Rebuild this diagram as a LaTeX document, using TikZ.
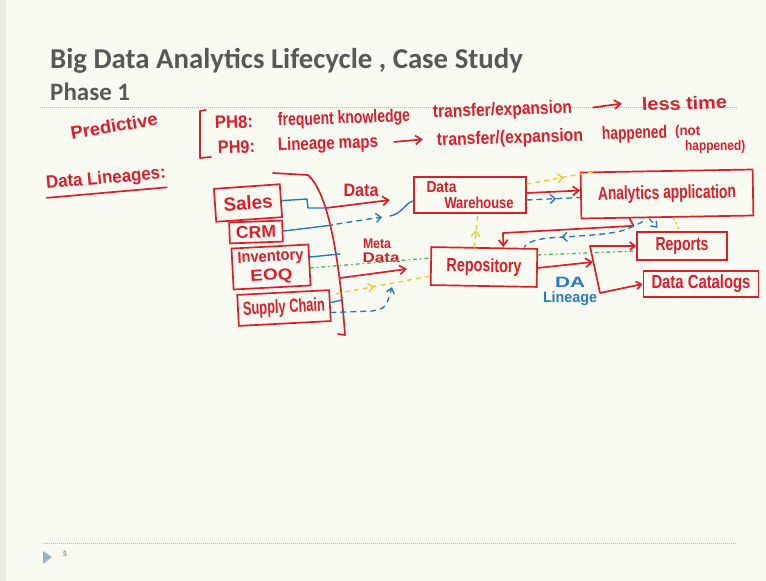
\documentclass[tikz,border=0pt]{standalone}
\usepackage{fontspec}
\usepackage{graphicx}
\setmainfont{Carlito}
\newfontfamily\penfont{Liberation Sans}
\usetikzlibrary{arrows.meta,decorations.markings}

\definecolor{paper}{RGB}{249,251,243}
\definecolor{slate}{RGB}{88,88,88}
\definecolor{rulegrey}{RGB}{185,185,185}
\definecolor{redpen}{RGB}{218,30,42}
\definecolor{bluepen}{RGB}{38,122,192}
\definecolor{yellowpen}{RGB}{240,200,45}
\definecolor{greenpen}{RGB}{72,178,92}
\definecolor{bullet}{RGB}{150,178,198}

% stretch a word horizontally to a given width (pt), keeping its height
\newcommand\hw[2]{\resizebox{#1pt}{\height}{#2}}

\begin{document}
\begin{tikzpicture}[x=1pt,y=-1pt,
  ink/.style={redpen, line width=1.7pt, line cap=round, line join=round},
  inkarrow/.style={ink, -{Straight Barb[length=6pt,width=9pt]}},
  bluesolid/.style={bluepen, line width=1.4pt, line cap=round, line join=round},
  bluedash/.style={bluesolid, dash pattern=on 5pt off 5pt},
  yellowdash/.style={yellowpen, line width=1.4pt, line cap=round, dash pattern=on 4pt off 5pt},
  greendot/.style={greenpen, line width=1.3pt, line cap=round, dash pattern=on 3pt off 4pt on 0.5pt off 4pt},
  midtip/.style={postaction={decorate,decoration={markings,
      mark=at position #1 with {\arrow{Straight Barb[length=5pt,width=9pt]}}}}},
  penbox/.style={draw=redpen, line width=1.7pt, inner sep=0pt, text=redpen,
      font=\penfont\bfseries\fontsize{19}{17}\selectfont, align=center},
  pentext/.style={text=redpen, inner sep=0pt, font=\penfont\bfseries\fontsize{18}{17}\selectfont},
  slidehead/.style={anchor=base west, inner sep=0pt, text=slate}
]
\useasboundingbox (0,0) rectangle (766,581);
\fill[paper] (0,0) rectangle (766,581);
\fill[paper!94!black] (0,0) rectangle (6,581);

% slide header and footer
\node[slidehead, font=\bfseries\fontsize{28.8}{32}\selectfont] (title) at (50,68)
  {Big Data Analytics Lifecycle , Case Study};
\node[slidehead, font=\bfseries\fontsize{25}{28}\selectfont] (phase) at (50,100) {Phase 1};
\draw[rulegrey, line width=0.6pt, dash pattern=on 1pt off 1pt] (40,107) -- (737,107);
\draw[rulegrey, line width=0.6pt, dash pattern=on 1pt off 1pt] (43,543) -- (737,543);
\fill[bullet] (43,551) -- (52,557) -- (43,564) -- cycle;
\node[inner sep=0pt, text=slate, font=\fontsize{8}{9}\selectfont] (pagenum) at (65,554) {5};

% notes at the top
\node[pentext, rotate=10] (predictive) at (114,126) {\hw{88}{Predictive}};
\draw[ink] (206,110) -- (200,111) -- (200,158) -- (211,157);

\node[pentext, anchor=base west, rotate=2] (ph8) at (215,129) {\hw{38}{PH8:}};
\node[pentext, anchor=base west, rotate=2] (freq) at (278,126) {\hw{132}{frequent knowledge}};
\node[pentext, anchor=base west, rotate=2] (transf) at (433,118) {\hw{139}{transfer/expansion}};
\node[pentext, anchor=base west, rotate=2] (less) at (642,111) {\hw{85}{less time}};
\draw[inkarrow] ([xshift=21pt,yshift=1pt]transf.east) -- ([xshift=-20pt,yshift=1pt]less.west);

\node[pentext, anchor=base west, rotate=2] (ph9) at (218,154) {\hw{37}{PH9:}};
\node[pentext, anchor=base west, rotate=2] (maps) at (278,151) {\hw{100}{Lineage maps}};
\node[pentext, anchor=base west, rotate=2] (transfb) at (437,146) {\hw{146}{transfer/(expansion}};
\node[pentext, anchor=base west, rotate=2] (happ) at (602,140) {\hw{65}{happened}};
\node[pentext, anchor=base west, font=\penfont\bfseries\fontsize{14}{14}\selectfont] (notw) at (675,135) {\hw{25}{(not}};
\node[pentext, anchor=base west, font=\penfont\bfseries\fontsize{14}{14}\selectfont] (happb) at (685,150) {\hw{60}{happened)}};
\draw[inkarrow] ([xshift=16pt,yshift=1pt]maps.east) -- ([xshift=-14pt,yshift=2pt]transfb.west);

\node[pentext, rotate=5] (lineages) at (106,179) {\hw{120}{Data Lineages:}};
\draw[ink] ([yshift=-5pt]lineages.south west) -- ([yshift=-5pt]lineages.south east);

% source systems
\node[penbox, minimum width=66pt, minimum height=33pt, rotate=4] (sales) at (248,203) {\hw{49}{Sales}};
\node[penbox, minimum width=53pt, minimum height=21pt, rotate=2, font=\penfont\bfseries\fontsize{17}{17}\selectfont] (crm) at (256,232) {\hw{40}{CRM}};
\node[penbox, minimum width=77pt, minimum height=41pt, rotate=3, font=\penfont\bfseries\fontsize{16}{19}\selectfont] (inv) at (271,267)
  {\hw{66}{Inventory}\\\hw{42}{EOQ}};
\node[penbox, minimum width=92pt, minimum height=31pt, rotate=3] (supply) at (284,308) {\hw{82}{Supply Chain}};

% gathering bracket
\draw[ink] (273,173) -- (308,175) .. controls (325,190) and (338,240) .. (345,335) -- (338,334);
\coordinate (dataIn) at (326,208);
\coordinate (dataOut) at (390,200);
\coordinate (metaIn) at (340,278);
\coordinate (metaOut) at (407,269);

% targets
\node[penbox, minimum width=112pt, minimum height=36pt, align=left, font=\penfont\bfseries\fontsize{16}{16}\selectfont] (dw) at (470,195)
  {\hw{30}{Data}\\\hspace{18pt}\hw{69}{Warehouse}};
\node[penbox, minimum width=172pt, minimum height=46pt, rotate=1] (ana) at (667,194) {\hw{138}{Analytics application}};
\node[penbox, minimum width=106pt, minimum height=38pt, rotate=-1] (repo) at (484,267) {\hw{75}{Repository}};
\node[penbox, minimum width=90pt, minimum height=28pt] (rep) at (682,246) {\hw{53}{Reports}};
\node[penbox, minimum width=115pt, minimum height=26pt] (cat) at (701,284) {\hw{99}{Data Catalogs}};

% labels
\node[pentext] (datalbl) at (361,190) {\hw{35}{Data}};
\node[pentext, align=center, font=\penfont\bfseries\fontsize{14}{14}\selectfont] (metalbl) at (377,251)
  {\hw{28}{Meta}\\\hspace{8pt}\hw{37}{Data}};
\node[pentext, text=bluepen, align=center, font=\penfont\bfseries\fontsize{15}{15}\selectfont] (dalbl) at (570,291)
  {\hw{30}{DA}\\\hw{54}{Lineage}};

% red flows
\draw[inkarrow] (dataIn) -- (dataOut);
\draw[inkarrow] (metaIn) -- (metaOut);
\draw[inkarrow] ([yshift=2pt]dw.east) -- ([yshift=5pt]ana.west);
\draw[inkarrow] ([xshift=-38pt]ana.south) -- ++(4,8) -- (503,233) -- ([xshift=19pt]repo.north);
\coordinate (rtop) at (590,246);
\coordinate (rbot) at (600,293);
\coordinate (rmid) at (593,262);
\draw[inkarrow] (repo.east) -- (rmid);
\draw[ink, {Straight Barb[length=5pt,width=8pt]}-{Straight Barb[length=5pt,width=8pt]}]
  (rep.west) -- (rtop) -- (rbot) -- (cat.west);

% blue lineage lines
\draw[bluesolid] (sales.east) -- (307,199) -- (308,208) -- (dataIn);
\draw[bluesolid] (crm.east) -- (333,225);
\draw[bluedash, -{Straight Barb[length=5pt,width=9pt]}] (337,224) -- (382,217);
\draw[bluesolid] (390,216) .. controls (402,214) and (405,203) .. ([yshift=-6pt]dw.west);
\draw[bluesolid] ([yshift=8pt]inv.east) -- (340,254);
\draw[bluesolid] ([yshift=3pt]supply.east) -- (342,300);
\draw[bluedash, -{Straight Barb[length=5pt,width=8pt]}] ([yshift=-7pt]supply.east) -- (372,311)
  .. controls (386,308) .. (392,287);
\draw[bluedash, midtip=0.55] ([yshift=-5pt]dw.east) -- ([yshift=-2pt]ana.west);
\draw[bluedash, midtip=0.68] ([xshift=-25pt,yshift=-4pt]ana.south) .. controls (620,233) .. (565,237)
  .. controls (535,238) and (528,242) .. ([xshift=40pt]repo.north);
\draw[bluedash, -{Straight Barb[length=5pt,width=8pt]}] ([xshift=-18pt,yshift=-1pt]ana.south)
  -- ([xshift=-10pt,yshift=-10pt]ana.south);

% yellow flows
\draw[yellowdash, midtip=0.55] ([yshift=11pt]dw.east) -- ([xshift=14pt]ana.north west);
\draw[yellowdash, midtip=0.5] ([xshift=-10pt]repo.north) -- ([xshift=8pt]dw.south);
\draw[yellowdash, midtip=0.4] ([xshift=6pt,yshift=12pt]supply.east) -- ([yshift=-10pt]repo.west);
\draw[yellowdash, dash pattern=on 2pt off 3pt] ([xshift=6pt]ana.south) -- ([xshift=-2pt]rep.north);

% green flows
\draw[greendot] ([yshift=-3pt]inv.east) -- ([yshift=8pt]repo.west);
\draw[greendot] ([yshift=13pt]repo.east) -- ([yshift=-5pt]rep.west);
\end{tikzpicture}
\end{document}
